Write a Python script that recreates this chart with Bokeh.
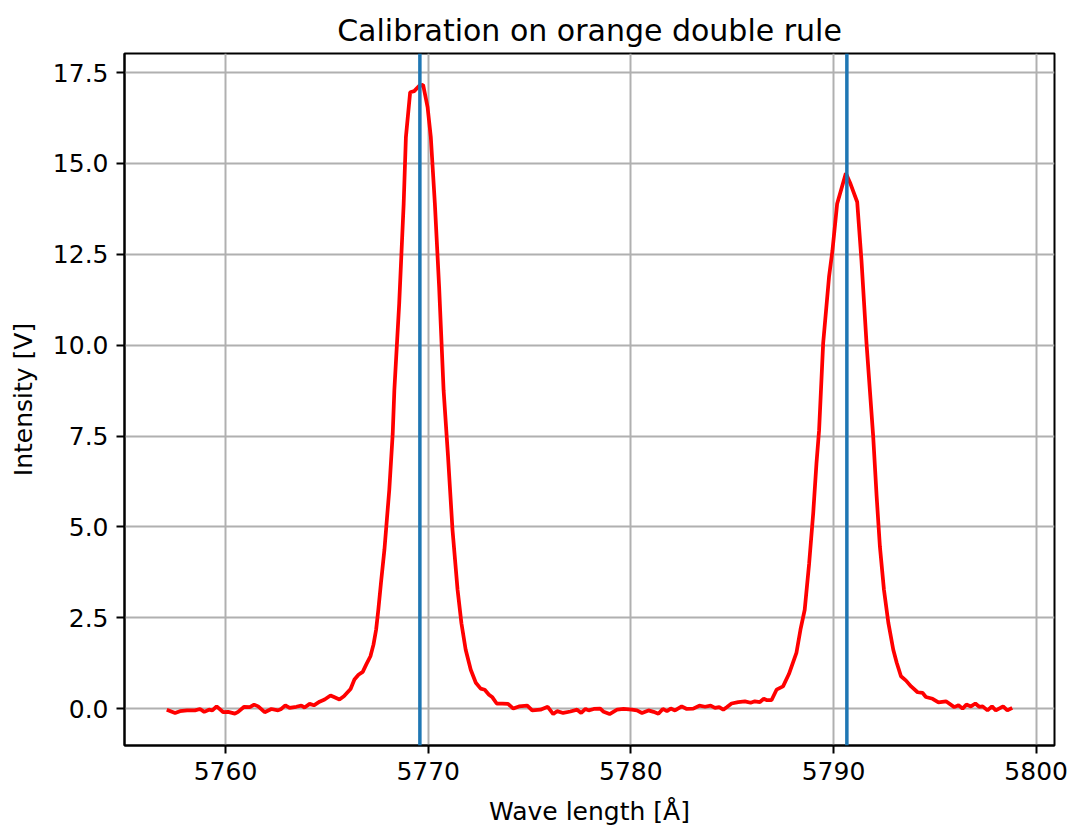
from bokeh.plotting import figure
from bokeh.models import Range1d, Span, FixedTicker, PrintfTickFormatter, NumeralTickFormatter
from bokeh.embed import file_html
from bokeh.resources import INLINE

wavelength = [
    5757.10, 5757.51, 5757.75, 5758.10, 5758.49, 5758.74, 5758.95, 5759.18, 5759.35, 5759.56,
    5759.89, 5760.13, 5760.46, 5760.62, 5760.92, 5761.20, 5761.41, 5761.61, 5761.93, 5762.26,
    5762.59, 5762.75, 5762.95, 5763.16, 5763.49, 5763.74, 5763.90, 5764.15, 5764.36, 5764.64,
    5764.89, 5765.18, 5765.38, 5765.62, 5765.84, 5766.17, 5766.36, 5766.56, 5766.77, 5766.94,
    5767.15, 5767.30, 5767.43, 5767.54, 5767.67, 5767.84, 5768.08, 5768.25, 5768.33, 5768.57,
    5768.79, 5768.90, 5769.11, 5769.31, 5769.56, 5769.75, 5769.97, 5770.13, 5770.33, 5770.54,
    5770.76, 5770.98, 5771.20, 5771.45, 5771.64, 5771.85, 5772.10, 5772.35, 5772.59, 5772.79,
    5773.00, 5773.17, 5773.38, 5773.66, 5773.94, 5774.20, 5774.48, 5774.89, 5775.13, 5775.54,
    5775.90, 5776.17, 5776.36, 5776.66, 5777.02, 5777.35, 5777.55, 5777.76, 5777.92, 5778.17,
    5778.49, 5778.66, 5778.95, 5779.32, 5779.64, 5780.05, 5780.30, 5780.55, 5780.87, 5781.12,
    5781.36, 5781.58, 5781.78, 5781.97, 5782.18, 5782.51, 5782.76, 5783.08, 5783.38, 5783.66,
    5783.94, 5784.15, 5784.36, 5784.56, 5784.73, 5784.97, 5785.30, 5785.63, 5785.91, 5786.12,
    5786.37, 5786.56, 5786.72, 5786.94, 5787.19, 5787.51, 5787.80, 5788.17, 5788.37, 5788.58,
    5788.80, 5789.00, 5789.16, 5789.29, 5789.49, 5789.78, 5789.95, 5790.18, 5790.61, 5790.84,
    5791.17, 5791.38, 5791.63, 5791.96, 5792.13, 5792.29, 5792.49, 5792.71, 5792.95, 5793.12,
    5793.33, 5793.58, 5793.83, 5794.15, 5794.40, 5794.56, 5794.89, 5795.18, 5795.55, 5795.96,
    5796.17, 5796.37, 5796.56, 5796.78, 5797.00, 5797.19, 5797.36, 5797.60, 5797.82, 5798.01,
    5798.37, 5798.58, 5798.82,
]
intensity = [
    -0.03, -0.12, -0.07, -0.05, -0.05, -0.01, -0.09, -0.03, -0.05, 0.06,
    -0.10, -0.09, -0.14, -0.09, 0.05, 0.04, 0.11, 0.06, -0.10, -0.01,
    -0.05, -0.01, 0.09, 0.02, 0.05, 0.08, 0.03, 0.13, 0.09, 0.19,
    0.25, 0.36, 0.31, 0.25, 0.34, 0.54, 0.80, 0.93, 1.01, 1.21,
    1.44, 1.76, 2.17, 2.72, 3.46, 4.37, 6.02, 7.57, 8.76, 11.15,
    13.89, 15.72, 16.96, 16.99, 17.14, 17.16, 16.55, 15.72, 13.89, 11.60,
    8.76, 6.93, 4.92, 3.27, 2.35, 1.62, 1.07, 0.71, 0.55, 0.52,
    0.38, 0.31, 0.14, 0.14, 0.13, 0.00, 0.06, 0.08, -0.05, -0.03,
    0.05, -0.15, -0.07, -0.12, -0.08, -0.03, -0.12, -0.01, -0.05, -0.01,
    0.00, -0.09, -0.15, -0.03, -0.01, -0.03, -0.05, -0.12, -0.05, -0.09,
    -0.14, -0.01, -0.07, 0.00, -0.05, 0.06, -0.01, 0.00, 0.08, 0.05,
    0.08, 0.02, 0.04, -0.03, 0.04, 0.14, 0.18, 0.20, 0.16, 0.20,
    0.18, 0.27, 0.23, 0.23, 0.52, 0.61, 0.95, 1.53, 2.17, 2.72,
    4.00, 5.38, 6.75, 7.66, 10.05, 11.88, 12.61, 13.89, 14.73, 14.44,
    13.94, 12.34, 10.05, 7.48, 5.83, 4.46, 3.27, 2.35, 1.62, 1.26,
    0.89, 0.77, 0.61, 0.45, 0.43, 0.32, 0.27, 0.17, 0.20, 0.04,
    0.09, 0.00, 0.11, 0.06, 0.14, 0.05, 0.06, -0.05, 0.06, -0.05,
    0.06, -0.05, 0.02,
]
reference_lines = [5769.59, 5790.66]
x_ticks = [5760, 5770, 5780, 5790, 5800]
y_ticks = [0.0, 2.5, 5.0, 7.5, 10.0, 12.5, 15.0, 17.5]

FONT = "DejaVu Sans"

xmin, xmax = min(wavelength), max(wavelength)
ymin, ymax = min(intensity), max(intensity)
xpad = 0.05 * (xmax - xmin)
ypad = 0.05 * (ymax - ymin)

p = figure(
    width=1071, height=829,
    x_range=Range1d(xmin - xpad, xmax + xpad),
    y_range=Range1d(ymin - ypad, ymax + ypad),
    output_backend="svg", toolbar_location=None,
    title="Calibration on orange double rule",
    min_border_left=124, min_border_right=17, min_border_top=53, min_border_bottom=84,
)
p.background_fill_color = "white"
p.border_fill_color = "white"
p.outline_line_color = "black"
p.outline_line_width = 2

p.title.text_font = FONT
p.title.text_font_size = "30px"
p.title.text_font_style = "normal"
p.title.align = "center"
p.title.text_color = "black"
p.title.standoff = 12

for ax in (p.xaxis[0], p.yaxis[0]):
    ax.axis_label_text_font = FONT
    ax.axis_label_text_font_size = "25px"
    ax.axis_label_text_font_style = "normal"
    ax.axis_label_text_color = "black"
    ax.major_label_text_font = FONT
    ax.major_label_text_font_size = "25px"
    ax.major_label_text_color = "black"
    ax.axis_line_color = "black"
    ax.axis_line_width = 2
    ax.major_tick_line_color = "black"
    ax.major_tick_line_width = 2
    ax.major_tick_out = 8
    ax.major_tick_in = 0
    ax.minor_tick_line_color = None
    ax.major_label_standoff = 8

p.xaxis[0].ticker = FixedTicker(ticks=x_ticks)
p.xaxis[0].formatter = NumeralTickFormatter(format="0")
p.yaxis[0].ticker = FixedTicker(ticks=y_ticks)
p.yaxis[0].formatter = PrintfTickFormatter(format="%.1f")
p.xaxis[0].axis_label = "Wave length [Å]"
p.yaxis[0].axis_label = "Intensity [V]"
p.xaxis[0].axis_label_standoff = 14
p.yaxis[0].axis_label_standoff = 12

for g in (p.xgrid[0], p.ygrid[0]):
    g.grid_line_color = "#b0b0b0"
    g.grid_line_width = 2

p.line(wavelength, intensity, line_color="red", line_width=3.75)

for xv in reference_lines:
    p.add_layout(Span(location=xv, dimension="height", line_color="#1f77b4", line_width=3.5))

open("out.html", "w").write(file_html(p, INLINE))
